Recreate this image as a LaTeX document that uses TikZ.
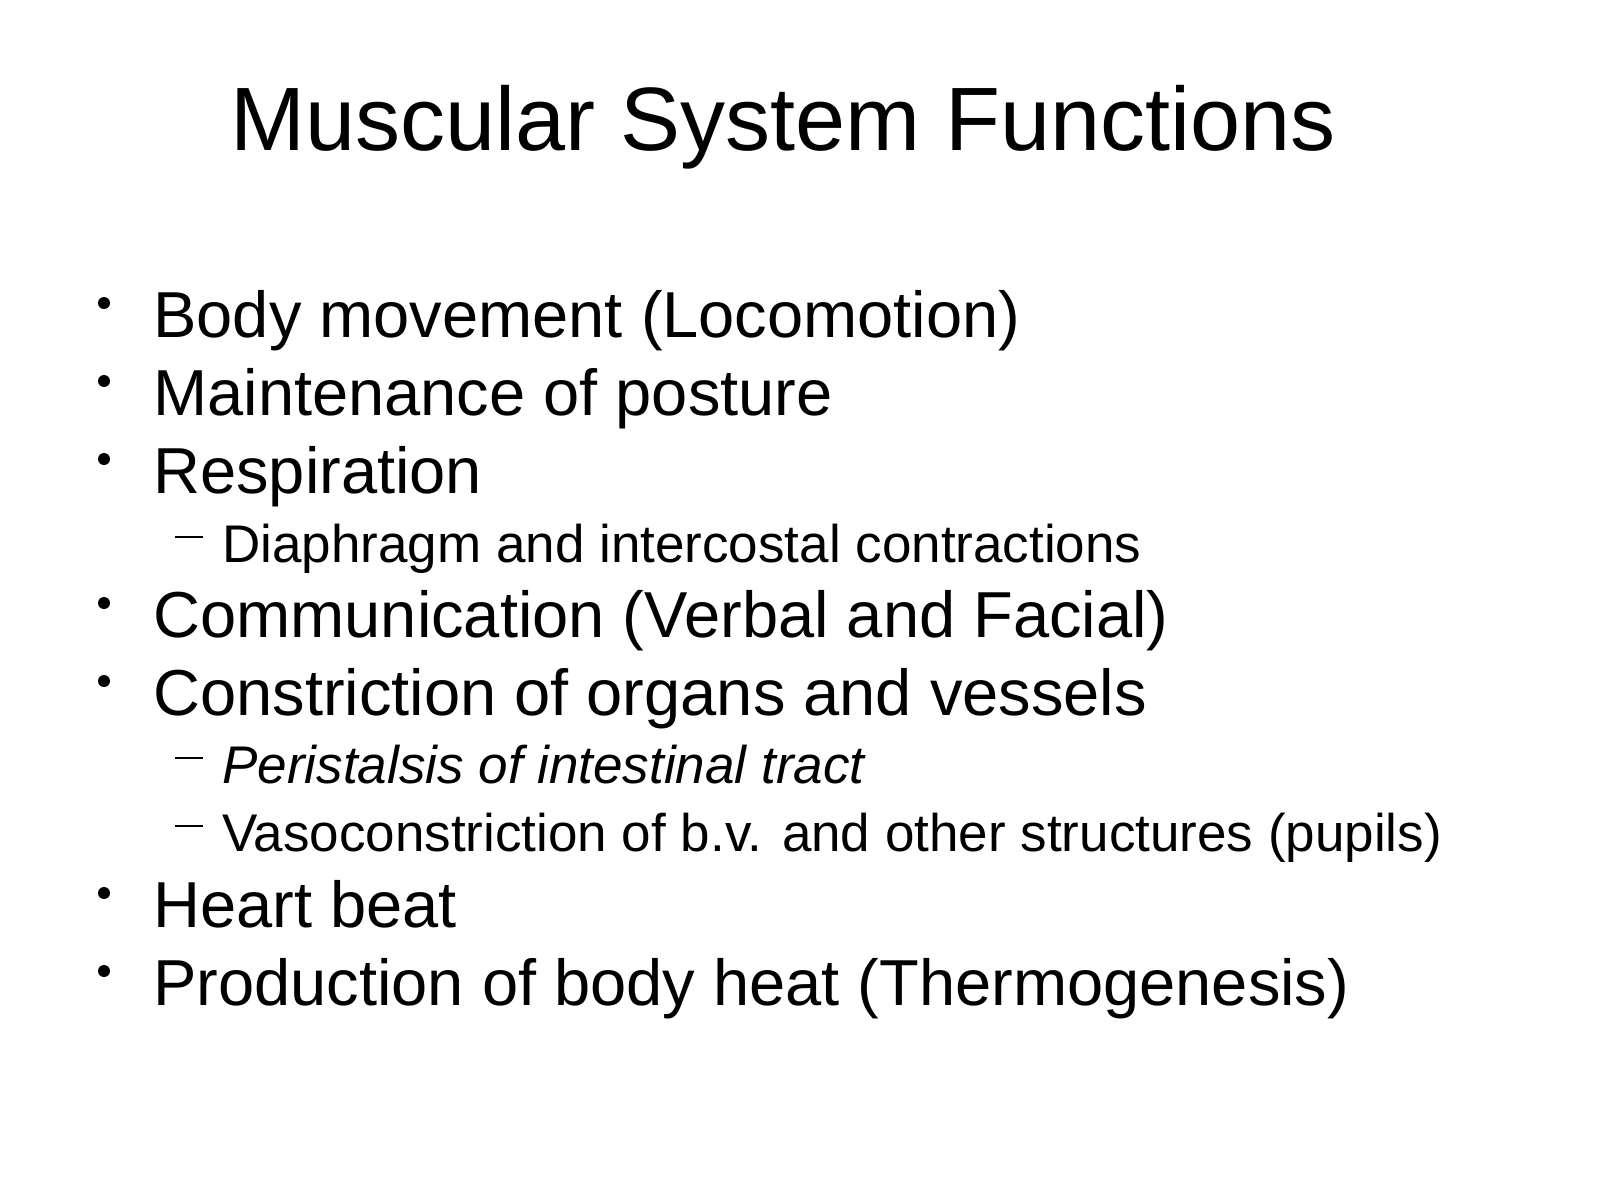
\documentclass[tikz,border=0pt]{standalone}
\usepackage{fontspec}
\setmainfont{Liberation Sans}
\begin{document}
\begin{tikzpicture}[x=0.5pt,y=-0.5pt,
  title/.style={anchor=base,inner sep=0,font=\fontsize{45}{54}\selectfont},
  lvl1/.style={anchor=base west,inner sep=0,font=\fontsize{32.5}{39}\selectfont},
  lvl2/.style={anchor=base west,inner sep=0,font=\fontsize{26.5}{32}\selectfont},
  bul/.style={fill=black,draw=none},
  dsh/.style={line width=1.4pt}]
\useasboundingbox (0,0) rectangle (1600,1200);
\fill[white] (0,0) rectangle (1600,1200);
\node[title] (t) at (783,150) {Muscular System Functions};
\node[lvl1] (a) at (153,337) {Body movement (Locomotion)};
\node[lvl1] (b) at (153,415) {Maintenance of posture};
\node[lvl1] (c) at (153,493) {Respiration};
\node[lvl2] (c1) at (222,562) {Diaphragm and intercostal contractions};
\node[lvl1] (d) at (153,637) {Communication (Verbal and Facial)};
\node[lvl1] (e) at (153,715) {Constriction of organs and vessels};
\node[lvl2] (e1) at (222,783) {\itshape Peristalsis of intestinal tract};
\node[lvl2] (e2) at (222,851) {Vasoconstriction of b.v. and other structures (pupils)};
\node[lvl1] (f) at (153,927) {Heart beat};
\node[lvl1] (g) at (153,1005) {Production of body heat (Thermogenesis)};
\foreach \y in {303,381,459,603,681,893,971} \fill[bul] (104,\y) circle (6);
\foreach \y in {537,758,826} \draw[dsh] (175,\y) -- (203,\y);
\end{tikzpicture}
\end{document}
